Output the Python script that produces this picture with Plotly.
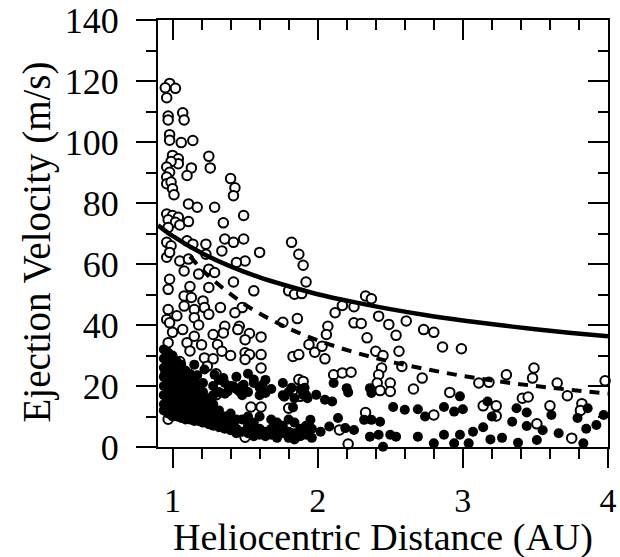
import plotly.graph_objects as go

# Open circles (heliocentric distance AU, ejection velocity m/s)
open_r = [0.98,1.02,0.95,0.96,0.97,0.97,1.07,1.08,0.98,0.98,1.06,1.14,1.00,1.04,1.04,0.99,0.96,0.98,1.13,1.10,
          1.25,1.26,0.96,0.96,0.99,1.00,1.01,1.40,1.43,1.42,1.11,1.17,1.29,
          0.96,1.00,1.04,0.97,1.02,1.05,1.11,1.35,1.49,0.97,0.96,0.99,1.10,1.14,1.23,1.36,1.42,1.49,
          0.96,0.98,1.05,1.11,1.23,1.34,1.60,1.82,1.87,1.90,1.92,1.80,1.84,1.89,1.50,1.44,
          1.08,1.18,1.25,1.29,0.98,0.97,1.12,1.25,1.42,1.56,1.08,1.13,1.21,0.97,1.08,1.15,1.22,1.33,1.48,
          0.96,1.15,1.25,1.43,1.76,1.86,1.36,1.46,
          0.98,1.00,0.97,1.10,1.15,1.28,1.35,1.45,1.53,1.61,1.50,1.31,1.34,1.40,1.50,1.53,1.61,1.22,1.28,1.50,
          1.61,1.83,1.87,1.94,1.87,1.30,1.54,1.61,1.80,0.97,1.50,
          2.07,2.06,2.25,2.30,2.49,2.61,2.34,2.54,2.73,2.80,2.86,1.98,2.05,2.03,2.40,2.45,2.56,2.44,2.58,
          2.11,2.17,2.23,2.42,2.41,2.50,2.43,2.50,2.72,2.66,2.91,2.80,2.33,2.15,2.21,1.90,1.88,
          2.33,2.37,2.17,2.25,2.12,2.42,
          2.99,3.30,3.11,3.18,3.49,3.48,3.65,3.72,3.98,3.14,3.23,3.41,3.45,3.60,3.82,3.81,3.23,3.51,3.75,
          1.03,1.07,1.18,1.12,1.20,1.05,1.24,1.30]
open_v = [119.2,117.6,117.8,114.5,108.5,107.2,109.6,107.2,102.4,100.6,99.8,100.5,95.6,94.5,92.9,93.6,91.8,90.1,91.5,89.0,
          95.3,91.5,88.5,86.3,86.9,84.7,82.7,88.0,85.0,82.4,79.7,78.6,78.6,
          76.4,75.9,75.3,74.5,73.7,72.8,73.9,73.5,75.9,72.0,67.1,66.0,67.6,66.5,66.5,68.2,67.1,68.2,
          62.2,63.8,61.0,61.6,63.2,64.3,63.8,67.1,63.2,59.6,54.1,51.2,50.1,50.3,61.0,60.5,
          57.7,56.7,58.3,57.2,55.0,51.7,52.6,52.3,54.1,51.2,49.5,49.0,47.9,45.1,46.2,45.1,45.7,45.7,45.7,
          41.8,42.4,43.5,44.0,40.9,42.1,39.6,39.6,
          40.7,37.6,34.2,34.2,36.3,36.9,37.4,38.5,37.2,36.1,35.2,33.6,31.4,30.0,30.9,30.3,30.3,29.2,28.9,28.7,
          25.9,29.7,30.3,33.6,22.1,17.1,13.1,13.1,12.7,9.1,3.2,
          39.6,36.9,40.7,40.5,40.2,41.3,35.8,36.6,38.5,37.6,32.8,31.1,28.9,33.0,31.4,30.0,31.4,25.9,26.4,
          23.7,24.3,24.5,23.7,21.0,21.0,18.5,18.2,22.6,19.0,17.9,10.5,11.3,5.6,1.0,21.5,16.6,
          49.5,48.6,46.4,46.0,44.0,42.9,
          32.2,23.7,21.0,21.2,25.9,22.6,21.0,16.8,21.7,13.5,13.5,16.0,16.4,13.5,14.2,12.0,10.2,7.6,2.9,
          43.0,38.5,40.0,31.5,33.5,28.0,26.5,24.0]

# Filled circles
filled_r = [0.94]*8 + [0.97]*8 + [1.00]*8 + [1.03]*7 + [1.06]*7 + [1.09]*7 + [1.12]*6 + [1.15]*6 + [1.18]*5 + [1.21]*6 + \
           [1.25]*4 + [1.28]*6 + [1.32]*5 + [1.36]*5 + [1.40]*4 + [1.44]*5 + [1.48]*4 + [1.52]*5 + [1.56]*4 + [1.60]*5 + \
           [1.64]*3 + [1.68]*4 + [1.72]*3 + [1.76]*4 + [1.80]*4 + [1.84]*4 + [1.88]*3 + [1.92]*3 + [1.96]*2 + \
           [1.15,1.22,1.29,1.35,1.42,1.49,1.46,1.56,1.62,1.64,1.38,1.82,1.77,1.83,1.91,1.93] + \
           [1.99,2.05,2.10,1.90,2.11,2.20,2.21,2.36,2.37,2.52,2.60,2.69,2.74,2.87,2.32,2.37,2.43,2.14,2.19,2.25,
            2.08,2.02,1.95,2.36,2.42,2.50,2.54,2.69,2.87,2.94,2.80,2.45,2.94] + \
           [2.98,3.00,3.17,3.20,3.34,3.37,3.44,3.44,3.61,3.79,3.86,3.92,3.97,2.98,3.07,3.04,3.19,3.38,3.51,3.66,3.83,
            3.14,3.27,3.55,3.85] + \
           [0.95,0.99,1.02,1.05,1.08,1.11,1.14,1.17,1.20,1.23]
filled_v = [32,29,26,23,20,17,14,12, 31,28,25,22,19,16,13,11, 30,27,24,21,18,15,12,10, 28,25,22,19,16,13,10,
            27,24,21,18,15,12,9.5, 25,22,19,16,13,10,9, 24,21,18,15,12,9, 22,19,16,13,10,8.5, 20,17,14,11,8.5,
            21,18,15,12,9,8, 16,13,10,7.5, 20,17,14,11,8,7, 22,18,12,9,6.5, 21,17.5,10,7,6, 20,11,8,5.5,
            23,19,9,6,4.5, 20,17,9,5, 24,18,10,7,4.5, 21,8,5,3.5, 19.5,17,10,6,4, 22,5,3.5, 19,9,6,4, 8,5,3,
            21,17,7,4.5, 18,9,5,3, 16,8,4.5,2.5, 19,6,3.5, 17,7,4, 3,6,
            27.0,25.4,23.7,22.6,19.9,20.4,18.2,22.1,20.4,17.7,18.2,19.4,16.5,13.0,19.4,16.0,
            17.1,15.5,14.9,17.1,21.0,19.3,17.9,19.3,17.7,13.1,12.2,12.4,10.0,13.1,8.9,8.9,8.3,9.5,6.2,5.6,
            6.7,5.0,8.9,3.4,4.0,4.0,3.4,3.4,4.0,1.2,1.2,0.1,11.6,
            16.6,12.4,14.9,10.0,8.3,12.7,11.3,6.9,10.5,9.5,12.7,7.2,10.5,4.0,5.0,1.2,2.5,1.4,2.3,4.5,1.2,
            6.5,3.0,5.5,6.0,
            24.5,23.0,26.0,20.5,23.0,19.5,17.5,23.5,15.5,13.5]

# Model curves
solid_r = [0.90,1.00,1.20,1.40,1.60,1.80,2.00,2.25,2.50,2.75,3.00,3.25,3.50,3.75,4.00]
solid_v = [72.7,69.2,63.6,59.2,55.6,52.7,50.1,47.5,45.2,43.2,41.5,40.0,38.6,37.4,36.3]
dashed_r = [1.12,1.25,1.50,1.75,2.00,2.25,2.50,2.75,3.00,3.25,3.50,3.75,4.00]
dashed_v = [62.5,56.0,46.7,40.0,35.0,31.1,28.0,25.5,23.3,21.5,20.0,18.7,17.5]

x_ticks = [1, 2, 3, 4]
y_ticks = [0, 20, 40, 60, 80, 100, 120, 140]
x_title = "Heliocentric Distance (AU)"
y_title = "Ejection Velocity (m/s)"

FONT = "Liberation Serif"

fig = go.Figure()
fig.add_trace(go.Scatter(x=open_r, y=open_v, mode="markers", cliponaxis=False,
                         marker=dict(symbol="circle", size=9.5, color="white",
                                     line=dict(color="black", width=2)),
                         showlegend=False, hoverinfo="skip"))
fig.add_trace(go.Scatter(x=filled_r, y=filled_v, mode="markers", cliponaxis=False,
                         marker=dict(symbol="circle", size=10, color="black", line=dict(width=0)),
                         showlegend=False, hoverinfo="skip"))
fig.add_trace(go.Scatter(x=solid_r, y=solid_v, mode="lines",
                         line=dict(color="black", width=4.5, shape="spline"),
                         showlegend=False, hoverinfo="skip"))
fig.add_trace(go.Scatter(x=dashed_r, y=dashed_v, mode="lines",
                         line=dict(color="black", width=4, dash="10px,8px", shape="spline"),
                         showlegend=False, hoverinfo="skip"))
# helper trace for the inside-tick top/right axes
fig.add_trace(go.Scatter(x=[None], y=[None], xaxis="x2", yaxis="y2", mode="markers",
                         showlegend=False, hoverinfo="skip"))

fig.update_layout(
    width=620, height=557,
    margin=dict(l=158, r=12, t=20, b=110, autoexpand=False),
    paper_bgcolor="white", plot_bgcolor="white",
    font=dict(family=FONT, color="black"),
    xaxis=dict(range=[0.9, 4.0], tickvals=x_ticks, ticktext=[str(t) for t in x_ticks],
               ticks="outside", ticklen=19, tickwidth=2, tickcolor="black",
               minor=dict(dtick=0.2, tick0=0, ticks="outside", ticklen=10, tickwidth=2, tickcolor="black"),
               showline=True, linewidth=2, linecolor="black", mirror=True, automargin=False,
               showgrid=False, zeroline=False, ticklabelstandoff=3,
               tickfont=dict(family=FONT, size=34)),
    yaxis=dict(range=[0, 140], tickvals=y_ticks,
               ticks="outside", ticklen=20, tickwidth=2, tickcolor="black",
               minor=dict(dtick=10, tick0=0, ticks="outside", ticklen=10, tickwidth=2, tickcolor="black"),
               showline=True, linewidth=2, linecolor="black", mirror=True, automargin=False,
               showgrid=False, zeroline=False, ticklabelstandoff=10,
               tickfont=dict(family=FONT, size=36)),
    xaxis2=dict(range=[0.9, 4.0], overlaying="x", side="top", anchor="y", tickvals=x_ticks,
                showticklabels=False, ticks="inside", ticklen=20, tickwidth=2, tickcolor="black",
                minor=dict(dtick=0.2, tick0=0, ticks="inside", ticklen=10, tickwidth=2, tickcolor="black"),
                showgrid=False, zeroline=False, showline=False, automargin=False),
    yaxis2=dict(range=[0, 140], overlaying="y", side="right", anchor="x", tickvals=y_ticks,
                showticklabels=False, ticks="inside", ticklen=20, tickwidth=2, tickcolor="black",
                minor=dict(dtick=10, tick0=0, ticks="inside", ticklen=10, tickwidth=2, tickcolor="black"),
                showgrid=False, zeroline=False, showline=False, automargin=False),
    annotations=[
        dict(text=x_title, xref="paper", yref="paper", x=0.5, y=0, xanchor="center", yanchor="top",
             yshift=-67, showarrow=False, font=dict(family=FONT, size=38)),
        dict(text=y_title, xref="paper", yref="paper", x=0, y=0.5, xanchor="center", yanchor="middle",
             xshift=-122, yshift=-9, textangle=-90, showarrow=False, font=dict(family=FONT, size=39)),
    ],
)

fig.write_html("out.html")
